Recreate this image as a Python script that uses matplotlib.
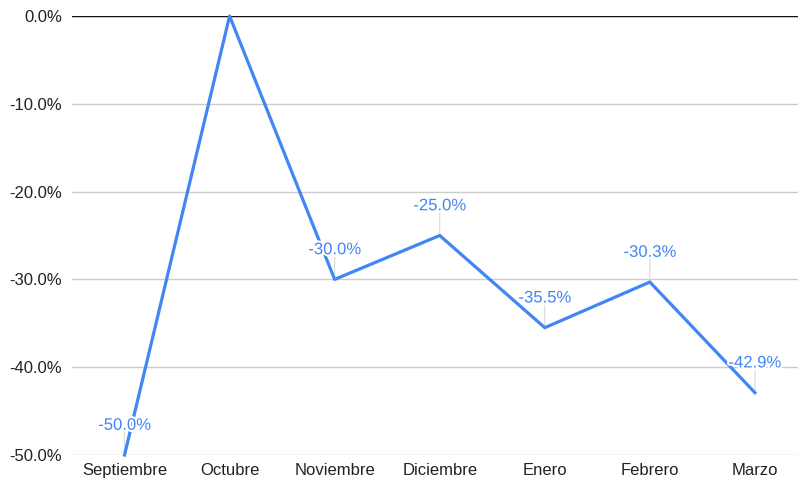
import matplotlib.pyplot as plt
import matplotlib.patheffects as pe
from matplotlib.ticker import FuncFormatter

# data
meses = ['Septiembre', 'Octubre', 'Noviembre', 'Diciembre', 'Enero', 'Febrero', 'Marzo']
variacion = [-50.0, 0.0, -30.0, -25.0, -35.5, -30.3, -42.9]
mostrar_etiqueta = [True, False, True, True, True, True, True]

azul = '#4285F4'
plt.rcParams['font.family'] = ['Liberation Sans', 'DejaVu Sans']

fig = plt.figure(figsize=(7.98, 4.83), dpi=100)
ax = fig.add_axes([72 / 798, 1 - 455 / 483, 726 / 798, 439 / 483])

x = list(range(len(meses)))
ax.plot(x, variacion, color=azul, linewidth=2.3, zorder=3, clip_on=False)

# data labels with small leader lines
for xi, v, show in zip(x, variacion, mostrar_etiqueta):
    if not show:
        continue
    ax.annotate('', xy=(xi, v), xytext=(0, 16), textcoords='offset points',
                arrowprops=dict(arrowstyle='-', color='#d9d9d9', lw=0.8,
                                shrinkA=0, shrinkB=0), zorder=2)
    ax.annotate(f'{v:.1f}%', xy=(xi, v), xytext=(0, 16), textcoords='offset points',
                ha='center', va='bottom', color=azul, fontsize=12, zorder=4,
                path_effects=[pe.withStroke(linewidth=3, foreground='white')])

ax.set_xlim(-0.5, 6.41)
ax.set_ylim(-50, 0)
ax.set_yticks([0, -10, -20, -30, -40, -50])
ax.yaxis.set_major_formatter(FuncFormatter(lambda v, p: f'{v:.1f}%'))
ax.set_xticks(x)
ax.set_xticklabels(meses)

ax.grid(axis='y', color='#cccccc', linewidth=1)
ax.axhline(0, color='#111111', linewidth=1.0, zorder=2)
for s in ax.spines.values():
    s.set_visible(False)
ax.tick_params(axis='both', length=0, labelsize=12, colors='#222222')
ax.tick_params(axis='y', pad=7)
ax.tick_params(axis='x', pad=6)

fig.savefig('out.png', dpi=100)
